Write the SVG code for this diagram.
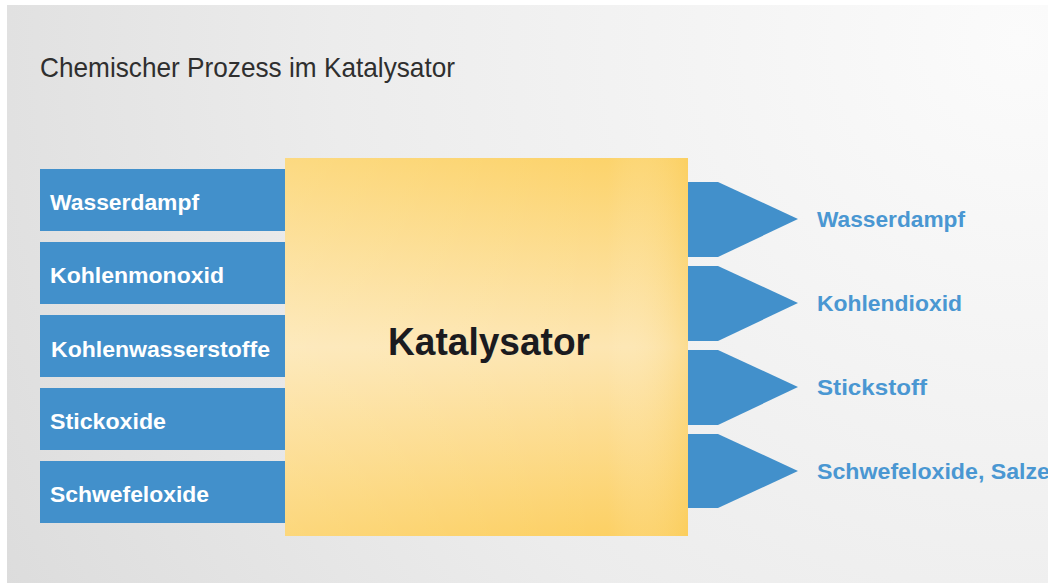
<svg xmlns="http://www.w3.org/2000/svg" width="1048" height="583" viewBox="0 0 1048 583">
  <defs>
    <radialGradient id="bg" gradientUnits="userSpaceOnUse" cx="1020" cy="40" r="1250">
      <stop offset="0" stop-color="#fbfbfb"/>
      <stop offset="0.55" stop-color="#ececec"/>
      <stop offset="1" stop-color="#d9d9d9"/>
    </radialGradient>
    <linearGradient id="kat" x1="0" y1="0" x2="0" y2="1">
      <stop offset="0" stop-color="#fcd36b"/>
      <stop offset="0.5" stop-color="#fde6b2"/>
      <stop offset="1" stop-color="#fcd064"/>
    </linearGradient>
    <linearGradient id="katH" x1="0" y1="0" x2="1" y2="0">
      <stop offset="0" stop-color="#ffffff" stop-opacity="0.15"/>
      <stop offset="0.8" stop-color="#ffffff" stop-opacity="0"/>
      <stop offset="1" stop-color="#f9c94f" stop-opacity="0.35"/>
    </linearGradient>
    <style>
      .in { fill: #4290cb; }
      .arrow { fill: #4290cb; }
      .inlabel { font-family: "Liberation Sans", Arial, sans-serif; font-weight: bold; font-size: 22.5px; fill: #ffffff; }
      .outlabel { font-family: "Liberation Sans", Arial, sans-serif; font-weight: bold; font-size: 22.5px; fill: #4a97d2; }
      .title { font-family: "Liberation Sans", Arial, sans-serif; font-size: 28px; fill: #2f2f2f; }
      .kat { font-family: "Liberation Sans", Arial, sans-serif; font-weight: bold; font-size: 39px; fill: #1b1b1f; }
    </style>
  </defs>

  <rect x="0" y="0" width="1048" height="583" fill="#ffffff"/>
  <rect x="7" y="5" width="1041" height="578" fill="url(#bg)"/>

  <text class="title" x="40" y="77" textLength="415" lengthAdjust="spacingAndGlyphs">Chemischer Prozess im Katalysator</text>

  <g id="connectors">
    <path class="arrow" d="M688,182 H718 L798,219 L718,257 H688 Z"/>
    <path class="arrow" d="M688,266 H718 L798,303 L718,341 H688 Z"/>
    <path class="arrow" d="M688,350 H718 L798,387 L718,425 H688 Z"/>
    <path class="arrow" d="M688,434 H718 L798,471 L718,508 H688 Z"/>
  </g>

  <g id="in-wasserdampf">
    <rect class="in" x="40" y="169" width="245" height="62"/>
    <text class="inlabel" x="50" y="210" textLength="149" lengthAdjust="spacingAndGlyphs">Wasserdampf</text>
  </g>
  <g id="in-kohlenmonoxid">
    <rect class="in" x="40" y="242" width="245" height="62"/>
    <text class="inlabel" x="50" y="283" textLength="174" lengthAdjust="spacingAndGlyphs">Kohlenmonoxid</text>
  </g>
  <g id="in-kohlenwasserstoffe">
    <rect class="in" x="40" y="315" width="245" height="62"/>
    <text class="inlabel" x="51" y="357" textLength="219" lengthAdjust="spacingAndGlyphs">Kohlenwasserstoffe</text>
  </g>
  <g id="in-stickoxide">
    <rect class="in" x="40" y="388" width="245" height="62"/>
    <text class="inlabel" x="50" y="429" textLength="116" lengthAdjust="spacingAndGlyphs">Stickoxide</text>
  </g>
  <g id="in-schwefeloxide">
    <rect class="in" x="40" y="461" width="245" height="62"/>
    <text class="inlabel" x="50" y="502" textLength="159" lengthAdjust="spacingAndGlyphs">Schwefeloxide</text>
  </g>

  <g id="katalysator">
    <rect x="285" y="158" width="403" height="378" fill="url(#kat)"/>
    <rect x="285" y="158" width="403" height="378" fill="url(#katH)"/>
    <text class="kat" x="489" y="355" text-anchor="middle" textLength="202" lengthAdjust="spacingAndGlyphs">Katalysator</text>
  </g>

  <g id="out-wasserdampf">
    <text class="outlabel" x="817" y="227" textLength="148" lengthAdjust="spacingAndGlyphs">Wasserdampf</text>
  </g>
  <g id="out-kohlendioxid">
    <text class="outlabel" x="817" y="311" textLength="145" lengthAdjust="spacingAndGlyphs">Kohlendioxid</text>
  </g>
  <g id="out-stickstoff">
    <text class="outlabel" x="817" y="395" textLength="110" lengthAdjust="spacingAndGlyphs">Stickstoff</text>
  </g>
  <g id="out-schwefeloxide">
    <text class="outlabel" x="817" y="479" textLength="233" lengthAdjust="spacingAndGlyphs">Schwefeloxide, Salze</text>
  </g>
</svg>
